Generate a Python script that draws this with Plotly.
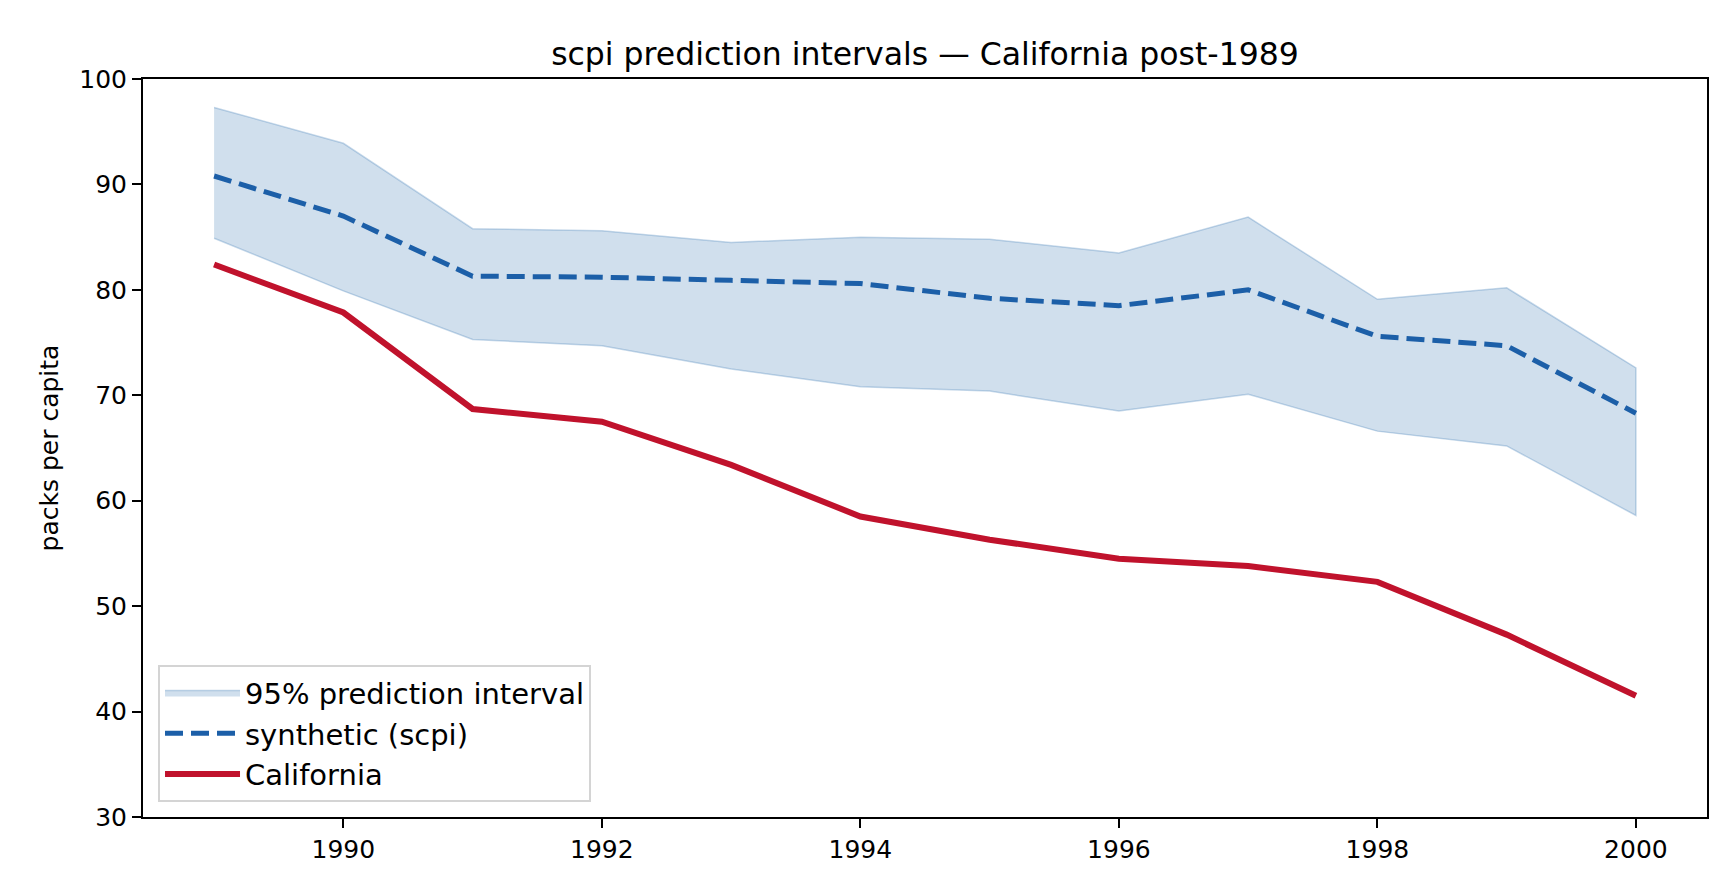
import plotly.graph_objects as go

# values
years = [1989, 1990, 1991, 1992, 1993, 1994, 1995, 1996, 1997, 1998, 1999, 2000]
california = [82.4, 77.85, 68.7, 67.5, 63.4, 58.5, 56.3, 54.5, 53.8, 52.3, 47.3, 41.5]
synthetic = [90.8, 87.0, 81.3, 81.2, 80.9, 80.6, 79.2, 78.5, 80.0, 75.6, 74.7, 68.3]
pi_upper = [97.3, 93.9, 85.8, 85.6, 84.5, 85.0, 84.8, 83.5, 86.9, 79.1, 80.2, 72.6]
pi_lower = [84.9, 79.9, 75.3, 74.7, 72.5, 70.8, 70.4, 68.5, 70.1, 66.6, 65.2, 58.6]

x_ticks = [1990, 1992, 1994, 1996, 1998, 2000]
y_ticks = [30, 40, 50, 60, 70, 80, 90, 100]

BLUE = "#1c5fa8"
RED = "#c0122c"
FONT = "DejaVu Sans"

fig = go.Figure()

# band as one closed polygon: upper edge forward, lower edge back
fig.add_trace(go.Scatter(
    x=years + years[::-1],
    y=pi_upper + pi_lower[::-1],
    fill="toself",
    fillcolor="rgba(33,102,172,0.21)",
    line=dict(color="rgba(33,102,172,0.25)", width=1.5),
    mode="lines",
    name="95% prediction interval",
    hoverinfo="skip",
))
fig.add_trace(go.Scatter(
    x=years, y=synthetic, mode="lines",
    line=dict(color=BLUE, width=5, dash="18px,8px"),
    name="synthetic (scpi)",
))
fig.add_trace(go.Scatter(
    x=years, y=california, mode="lines",
    line=dict(color=RED, width=6),
    name="California",
))

axis_common = dict(
    showgrid=False, zeroline=False,
    showline=True, linecolor="black", linewidth=2, mirror=True,
    ticks="outside", ticklen=9, tickwidth=2, tickcolor="black",
    tickfont=dict(family=FONT, size=25, color="black"),
)

fig.update_layout(
    width=1728, height=883,
    paper_bgcolor="white", plot_bgcolor="white",
    margin=dict(l=135, r=29, t=71, b=74),
    font=dict(family=FONT, color="black"),
    title=dict(
        text="scpi prediction intervals — California post-1989",
        font=dict(family=FONT, size=31.5, color="black"),
        x=0.5, xref="paper", xanchor="center",
        y=1 - 46 / 883, yref="container", yanchor="middle",
    ),
    xaxis=dict(range=[1988.45, 2000.55], tickvals=x_ticks, **axis_common),
    yaxis=dict(
        range=[30, 100], tickvals=y_ticks,
        title=dict(text="packs per capita", standoff=14,
                   font=dict(family=FONT, size=25, color="black")),
        **axis_common,
    ),
    legend=dict(
        x=0.0096, y=0.02, xanchor="left", yanchor="bottom",
        bgcolor="rgba(255,255,255,0.8)",
        bordercolor="#d4d4d4", borderwidth=2,
        font=dict(family=FONT, size=29, color="black"),
        itemwidth=75,
        traceorder="normal",
    ),
    showlegend=True,
)

fig.write_html("out.html")
